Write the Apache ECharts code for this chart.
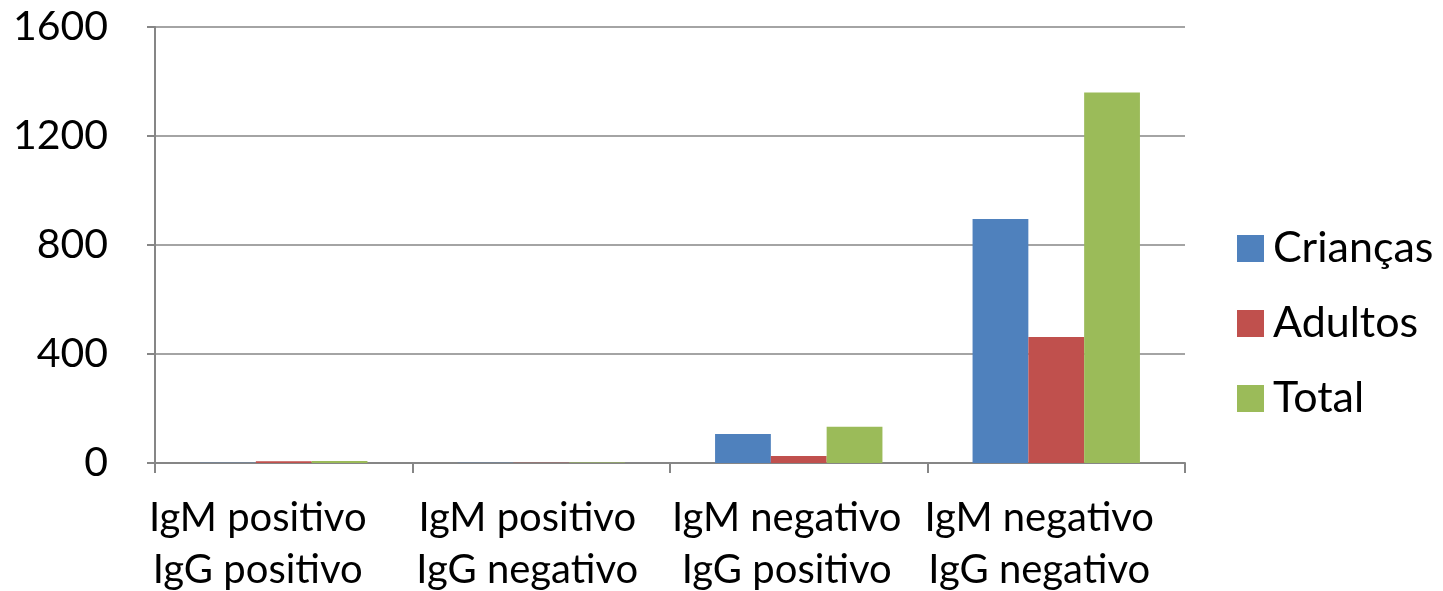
<!DOCTYPE html>
<html><head><meta charset="utf-8">
<script src="https://cdn.jsdelivr.net/npm/echarts@6/dist/echarts.min.js"></script>
<style>html,body{margin:0;padding:0;background:#fff}#c{width:1443px;height:591px}</style>
</head><body><div id="c"></div>
<script>
const categories = ['IgM positivo\nIgG positivo','IgM positivo\nIgG negativo','IgM negativo\nIgG positivo','IgM negativo\nIgG negativo'];
const seriesNames = ['Crianças','Adultos','Total'];
const criancas = [1, 1, 106, 895];
const adultos = [6, 1, 26, 462];
const total = [7, 2, 133, 1360];
const yTicks = [0, 400, 800, 1200, 1600];

const colors = ['#4F81BD','#C0504D','#9BBB59'];
const font = 'Lato, "Open Sans", sans-serif';
const labelShift = [52, 28, 24, 34];
const chart = echarts.init(document.getElementById('c'));
chart.setOption({
  animation: false,
  color: colors,
  grid: {left: 155, right: 258, top: 27, bottom: 128, containLabel: false, outerBoundsMode: 'none'},
  legend: {
    orient: 'vertical', left: 1232, top: 222,
    itemWidth: 27, itemHeight: 27, itemGap: 32, icon: 'rect',
    data: seriesNames,
    textStyle: {fontFamily: font, fontSize: 43, color: '#000', padding: [0,0,0,4]}
  },
  xAxis: {
    type: 'category',
    data: categories.map((c, i) => ({value: c, textStyle: {padding: [0, labelShift[i], 0, 0]}})),
    axisLine: {lineStyle: {color: '#868686', width: 2}},
    axisTick: {show: true, length: 10, lineStyle: {color: '#868686', width: 2}},
    axisLabel: {fontFamily: font, fontSize: 40, color: '#000', lineHeight: 52, margin: 29, interval: 0}
  },
  yAxis: {
    type: 'value', min: yTicks[0], max: yTicks[yTicks.length-1], interval: 400,
    axisLine: {show: true, lineStyle: {color: '#868686', width: 2}},
    axisTick: {show: true, length: 8, lineStyle: {color: '#868686', width: 2}},
    splitLine: {lineStyle: {color: '#868686', width: 1.5}},
    axisLabel: {fontFamily: font, fontSize: 41, color: '#000', margin: 47, formatter: v => String(v)}
  },
  series: [
    {name: seriesNames[0], type: 'bar', data: criancas, barGap: '0%', barCategoryGap: '35%'},
    {name: seriesNames[1], type: 'bar', data: adultos, barGap: '0%', barCategoryGap: '35%'},
    {name: seriesNames[2], type: 'bar', data: total, barGap: '0%', barCategoryGap: '35%'}
  ]
});
</script></body></html>
